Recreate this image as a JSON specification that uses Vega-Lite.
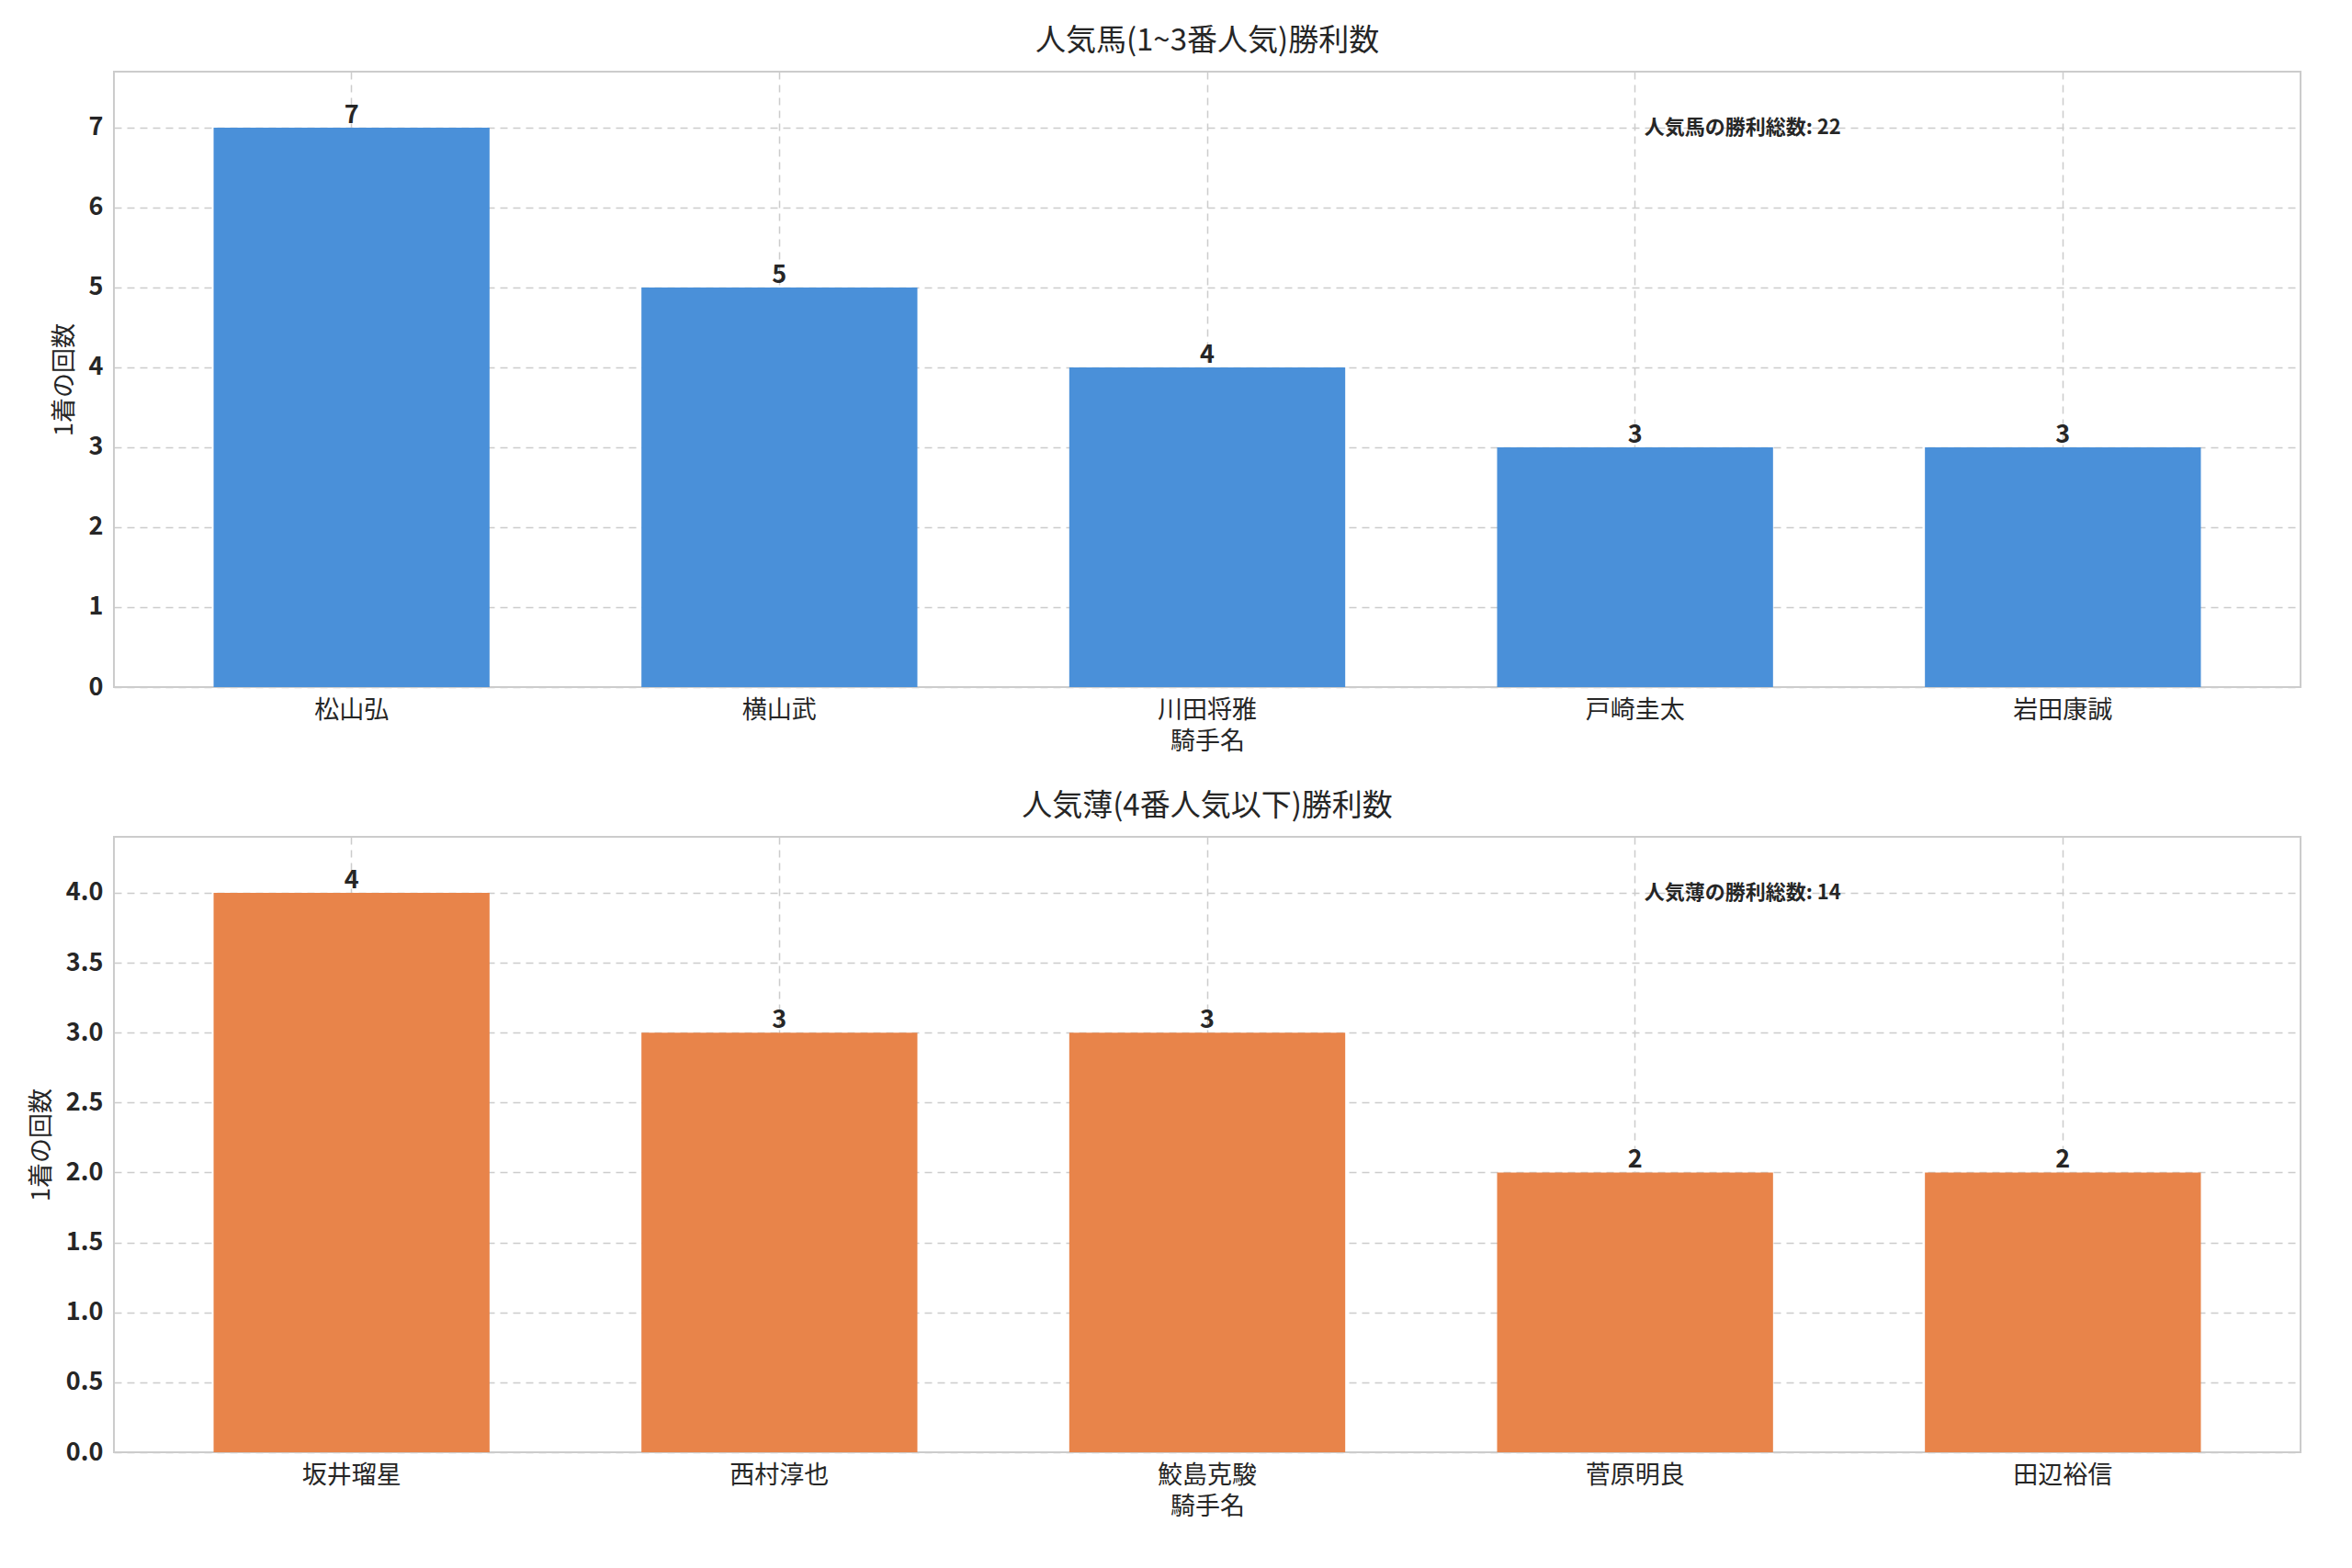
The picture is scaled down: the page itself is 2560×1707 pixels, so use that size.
{
  "$schema": "https://vega.github.io/schema/vega-lite/v6.json",
  "background": "white",
  "padding": {"left": 30, "top": 28, "right": 30, "bottom": 10},
  "config": {
    "font": "Noto Sans CJK JP",
    "view": {"stroke": "#cccccc", "strokeWidth": 2},
    "title": {"fontSize": 33, "fontWeight": "normal", "color": "#262626", "offset": 16},
    "axis": {
      "labelFontSize": 27, "labelFontWeight": "bold", "labelColor": "#262626",
      "titleFontSize": 27, "titleFontWeight": "normal", "titleColor": "#262626",
      "gridColor": "#cccccc", "gridDash": [8, 6], "gridWidth": 1.5,
      "domain": false, "ticks": false, "labelPadding": 12, "titlePadding": 12
    }
  },
  "vconcat": [
    {
      "title": "人気馬(1~3番人気)勝利数",
      "width": 2380, "height": 670,
      "data": {"values": [
        {"name": "松山弘", "wins": 7},
        {"name": "横山武", "wins": 5},
        {"name": "川田将雅", "wins": 4},
        {"name": "戸崎圭太", "wins": 3},
        {"name": "岩田康誠", "wins": 3}
      ]},
      "encoding": {
        "x": {"field": "name", "type": "nominal", "sort": null,
          "scale": {"paddingInner": 0.355, "paddingOuter": 0.233},
          "axis": {"title": "騎手名", "labelAngle": 0, "labelFontWeight": "normal", "grid": true, "bandPosition": 0.5, "labelFontSize": 27, "titlePadding": 8}},
        "y": {"field": "wins", "type": "quantitative",
          "scale": {"domain": [0, 7.7]}, "axis": {"title": "1着の回数", "tickCount": 8, "grid": true}}
      },
      "layer": [
        {"mark": {"type": "bar", "color": "#4A90D9"}},
        {"mark": {"type": "text", "baseline": "bottom", "dy": 1, "fontSize": 27, "fontWeight": "bold", "color": "#262626"},
          "encoding": {"text": {"field": "wins"}}},
        {"data": {"values": [{"name": "戸崎圭太", "wins": 7, "label": "人気馬の勝利総数: 22"}]},
          "mark": {"type": "text", "align": "left", "baseline": "middle", "dx": 10, "fontSize": 22, "fontWeight": "bold", "color": "#262626"},
          "encoding": {"text": {"field": "label"}}}
      ]
    },
    {
      "title": "人気薄(4番人気以下)勝利数",
      "width": 2380, "height": 670,
      "data": {"values": [
        {"name": "坂井瑠星", "wins": 4},
        {"name": "西村淳也", "wins": 3},
        {"name": "鮫島克駿", "wins": 3},
        {"name": "菅原明良", "wins": 2},
        {"name": "田辺裕信", "wins": 2}
      ]},
      "encoding": {
        "x": {"field": "name", "type": "nominal", "sort": null,
          "scale": {"paddingInner": 0.355, "paddingOuter": 0.233},
          "axis": {"title": "騎手名", "labelAngle": 0, "labelFontWeight": "normal", "grid": true, "bandPosition": 0.5, "labelFontSize": 27, "titlePadding": 8}},
        "y": {"field": "wins", "type": "quantitative",
          "scale": {"domain": [0, 4.4]}, "axis": {"title": "1着の回数", "format": ".1f", "values": [0, 0.5, 1, 1.5, 2, 2.5, 3, 3.5, 4], "grid": true}}
      },
      "layer": [
        {"mark": {"type": "bar", "color": "#E8844A"}},
        {"mark": {"type": "text", "baseline": "bottom", "dy": 1, "fontSize": 27, "fontWeight": "bold", "color": "#262626"},
          "encoding": {"text": {"field": "wins"}}},
        {"data": {"values": [{"name": "菅原明良", "wins": 4, "label": "人気薄の勝利総数: 14"}]},
          "mark": {"type": "text", "align": "left", "baseline": "middle", "dx": 10, "fontSize": 22, "fontWeight": "bold", "color": "#262626"},
          "encoding": {"text": {"field": "label"}}}
      ]
    }
  ],
  "spacing": 40
}
